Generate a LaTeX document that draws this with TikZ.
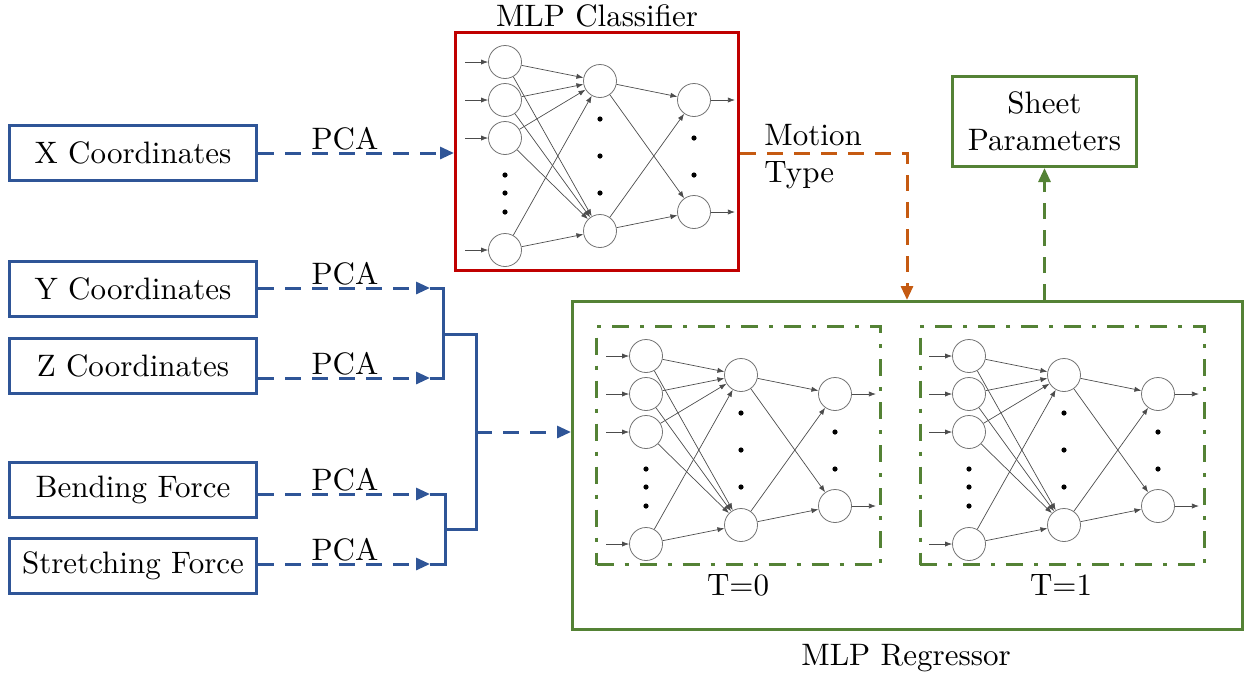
\documentclass[tikz,border=0pt]{standalone}
\usepackage{fontspec}
\setmainfont{lmroman10-regular}[Extension=.otf]
\usetikzlibrary{arrows.meta}
\definecolor{cblue}{HTML}{2F5597}
\definecolor{cred}{HTML}{C00000}
\definecolor{cgreen}{HTML}{548235}
\definecolor{corange}{HTML}{C55A11}
\tikzset{
  txt/.style={font=\fontsize{15.5}{18.6}\selectfont, inner sep=0pt},
  inbox/.style={txt, draw=cblue, line width=1.5pt, minimum width=123.5pt, minimum height=27.5pt},
  neuron/.style={circle, draw=black!55, line width=0.4pt, minimum size=16.5pt, inner sep=0pt},
  syn/.style={draw=black!70, line width=0.35pt, -{Latex[length=3.5pt,width=2.6pt]}},
  dotmark/.style={circle, fill=black, inner sep=0pt, minimum size=2.6pt},
  bigtip/.style={-{Triangle[length=7pt,width=6pt]}},
  dashline/.style={line width=1.5pt, dash pattern=on 8pt off 5.5pt},
  dashdot/.style={draw=cgreen, line width=1.5pt, dash pattern=on 8.5pt off 5.5pt on 2pt off 5.5pt},
  mlp/.pic={
    \foreach \k/\y in {1/31,2/69,3/107,4/219}{
      \node[neuron] (-i\k) at (51,\y) {};
      \draw[syn] (11,\y) -- (-i\k.west);
    }
    \node[neuron] (-h1) at (146,50) {};
    \node[neuron] (-h2) at (146,200) {};
    \node[neuron] (-o1) at (240,69) {};
    \node[neuron] (-o2) at (240,181) {};
    \foreach \k in {1,...,4}{
      \foreach \j in {1,2}{ \draw[syn] (-i\k) -- (-h\j); }
    }
    \foreach \k in {1,2}{
      \foreach \j in {1,2}{ \draw[syn] (-h\k) -- (-o\j); }
      \draw[syn] (-o\k.east) -- +(24,0);
    }
    \foreach \y in {144,162,181}{ \node[dotmark] at (51,\y) {}; }
    \foreach \y in {88,125,162}{ \node[dotmark] at (146,\y) {}; }
    \foreach \y in {107,144}{ \node[dotmark] at (240,\y) {}; }
  }
}
\begin{document}
\begin{tikzpicture}[x=0.5pt, y=-0.5pt]
  \useasboundingbox (0,0) rectangle (1249,677);

  % input boxes
  \node[inbox] (xc) at (133,153) {X Coordinates};
  \node[inbox] (yc) at (133,289) {Y Coordinates};
  \node[inbox] (zc) at (133,366) {Z Coordinates};
  \node[inbox] (bf) at (133,490) {Bending Force};
  \node[inbox] (sf) at (133,566) {Stretching Force};

  % classifier
  \node[draw=cred, line width=1.5pt, minimum width=141.5pt, minimum height=119pt, inner sep=0pt] (clf) at (597,151.5) {};
  \pic (cnet) at (454,31) {mlp};
  \node[txt] (clflab) at (597,16) {MLP Classifier};

  % regressor
  \node[draw=cgreen, line width=1.5pt, minimum width=335pt, minimum height=164pt, inner sep=0pt] (reg) at (907.5,465.5) {};
  \node[dashdot, minimum width=142pt, minimum height=119pt, inner sep=0pt] (t0) at (738.5,445.5) {};
  \node[dashdot, minimum width=142pt, minimum height=119pt, inner sep=0pt] (t1) at (1062,445.5) {};
  \pic (rnet0) at (595,325) {mlp};
  \pic (rnet1) at (918,325) {mlp};
  \node[txt] (t0lab) at (738,585) {T=0};
  \node[txt] (t1lab) at (1061,585) {T=1};
  \node[txt] (reglab) at (906,658) {MLP Regressor};

  % sheet parameters
  \node[txt, draw=cgreen, line width=1.5pt, minimum width=92pt, minimum height=45pt, align=center] (sp) at (1044.5,121.5) {Sheet\\Parameters};

  % PCA branch X -> classifier
  \draw[cblue, dashline, bigtip] (xc.east) -- (xc.east -| clf.west);
  \node[txt, anchor=base] (pcax) at (345,149) {PCA};

  % PCA branches into the brackets
  \coordinate (yin) at (430,288);
  \coordinate (zin) at (430,378);
  \coordinate (bin) at (430,494);
  \coordinate (sin) at (430,564);
  \draw[cblue, dashline, bigtip] (yc.east |- yin) -- (yin);
  \draw[cblue, dashline, bigtip] (zc.east |- zin) -- (zin);
  \draw[cblue, dashline, bigtip] (bf.east |- bin) -- (bin);
  \draw[cblue, dashline, bigtip] (sf.east |- sin) -- (sin);
  \node[txt, anchor=base] (pcay) at (345,284) {PCA};
  \node[txt, anchor=base] (pcaz) at (345,374) {PCA};
  \node[txt, anchor=base] (pcab) at (345,490) {PCA};
  \node[txt, anchor=base] (pcas) at (345,560) {PCA};

  % brackets merging the four inputs
  \coordinate (m1) at (443,334);
  \coordinate (m3) at (445,529);
  \coordinate (m2) at (476,432);
  \draw[cblue, line width=1.5pt] (yin) -- (443,288) -- (443,378) -- (zin);
  \draw[cblue, line width=1.5pt] (bin) -- (445,494) -- (445,564) -- (sin);
  \draw[cblue, line width=1.5pt] (m1) -- (476,334) -- (476,529) -- (m3);
  \draw[cblue, dashline, bigtip] (m2) -- (m2 -| reg.west);

  % motion type from classifier to regressor
  \coordinate (mt) at (907,153);
  \draw[corange, dashline, bigtip] (clf.east |- mt) -- (mt) -- (mt |- reg.north);
  \node[txt, anchor=base west] (mot1) at (764,145) {Motion};
  \node[txt, anchor=base west] (mot2) at (764,182) {Type};

  % regressor output
  \draw[cgreen, dashline, bigtip] (sp.south |- reg.north) -- (sp.south);
\end{tikzpicture}
\end{document}
